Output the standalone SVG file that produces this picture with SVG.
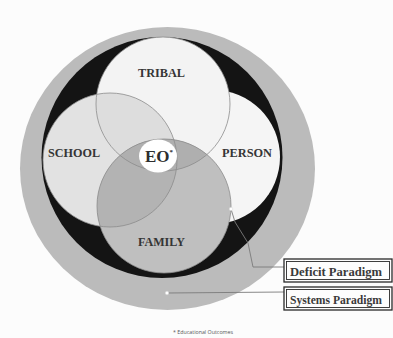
<svg xmlns="http://www.w3.org/2000/svg" width="393" height="338" viewBox="0 0 393 338">
<style>
.lbl{font-family:"Liberation Serif","Times New Roman",serif;font-weight:bold;fill:#353535;font-size:12px;text-anchor:middle}
.box{fill:#fdfdfd;stroke:#2a2a2a;stroke-width:1.3}
.boxin{fill:none;stroke:#2a2a2a;stroke-width:0.9}
.btxt{font-family:"Liberation Serif","Times New Roman",serif;font-weight:bold;fill:#3a3a3a;font-size:12px}
.lead{fill:none;stroke:#7a7a7a;stroke-width:0.9}
.dot{fill:#ffffff;stroke:#cfcfcf;stroke-width:0.4}
</style>
<defs>
<clipPath id="cT"><circle cx="163" cy="104" r="67"/></clipPath>
<clipPath id="cS"><circle cx="110" cy="160" r="67"/></clipPath>
</defs>
<rect x="0" y="0" width="393" height="338" fill="#fcfcfc"/>
<g id="systems-ring">
<ellipse cx="167.5" cy="168.5" rx="147.5" ry="141.5" fill="#bbbbbb"/>
<circle cx="162" cy="157.5" r="120.5" fill="#141414"/>
</g>
<g id="person">
<circle cx="213" cy="157" r="67" fill="#f5f5f5"/>
<text class="lbl" x="247" y="157" textLength="50" lengthAdjust="spacingAndGlyphs">PERSON</text>
</g>
<g id="school">
<circle cx="110" cy="160" r="67" fill="#e2e2e2"/>
<text class="lbl" x="74" y="157" textLength="52" lengthAdjust="spacingAndGlyphs">SCHOOL</text>
</g>
<g id="tribal">
<circle cx="163" cy="104" r="67" fill="#f3f3f3"/>
<circle cx="110" cy="160" r="67" fill="#dddddd" clip-path="url(#cT)"/>
<text class="lbl" x="161.5" y="77" textLength="47" lengthAdjust="spacingAndGlyphs">TRIBAL</text>
</g>
<g id="family">
<circle cx="164" cy="206" r="67" fill="#bfbfbf"/>
<circle cx="164" cy="206" r="67" fill="#b3b3b3" clip-path="url(#cS)"/>
<circle cx="164" cy="206" r="67" fill="#afafaf" clip-path="url(#cT)"/>
<text class="lbl" x="161.5" y="246" textLength="47" lengthAdjust="spacingAndGlyphs">FAMILY</text>
</g>
<g id="outlines" fill="none" stroke="#8c8c8c" stroke-width="0.8">
<circle cx="163" cy="104" r="67"/>
<circle cx="110" cy="160" r="67"/>
<circle cx="164" cy="206" r="67"/>
</g>
<g id="eo">
<ellipse cx="158" cy="156" rx="19" ry="16.5" fill="#ffffff"/>
<text class="lbl" x="145" y="162" style="text-anchor:start;font-size:17px;fill:#2e2e2e">EO<tspan dy="-8" style="font-size:7px">*</tspan></text>
</g>
<g id="connectors">
<polyline class="lead" points="231,209 235,222 248,243 253,267 284,267"/>
<polyline class="lead" points="167,293 284,292"/>
<circle class="dot" cx="231" cy="209" r="1.8"/>
<circle class="dot" cx="167" cy="293" r="1.8"/>
</g>
<g id="deficit">
<rect class="box" x="284" y="259" width="108" height="23"/>
<rect class="boxin" x="286.5" y="261.5" width="103" height="18"/>
<text class="btxt" x="290" y="275.5" textLength="92" lengthAdjust="spacingAndGlyphs">Deficit Paradigm</text>
</g>
<g id="systems">
<rect class="box" x="284" y="287" width="108" height="23"/>
<rect class="boxin" x="286.5" y="289.5" width="103" height="18"/>
<text class="btxt" x="290" y="303.5" textLength="92" lengthAdjust="spacingAndGlyphs">Systems Paradigm</text>
</g>
<text x="173" y="334" font-family="'Open Sans','Liberation Sans',sans-serif" font-size="6" fill="#555" textLength="60" lengthAdjust="spacingAndGlyphs">* Educational Outcomes</text>
</svg>
